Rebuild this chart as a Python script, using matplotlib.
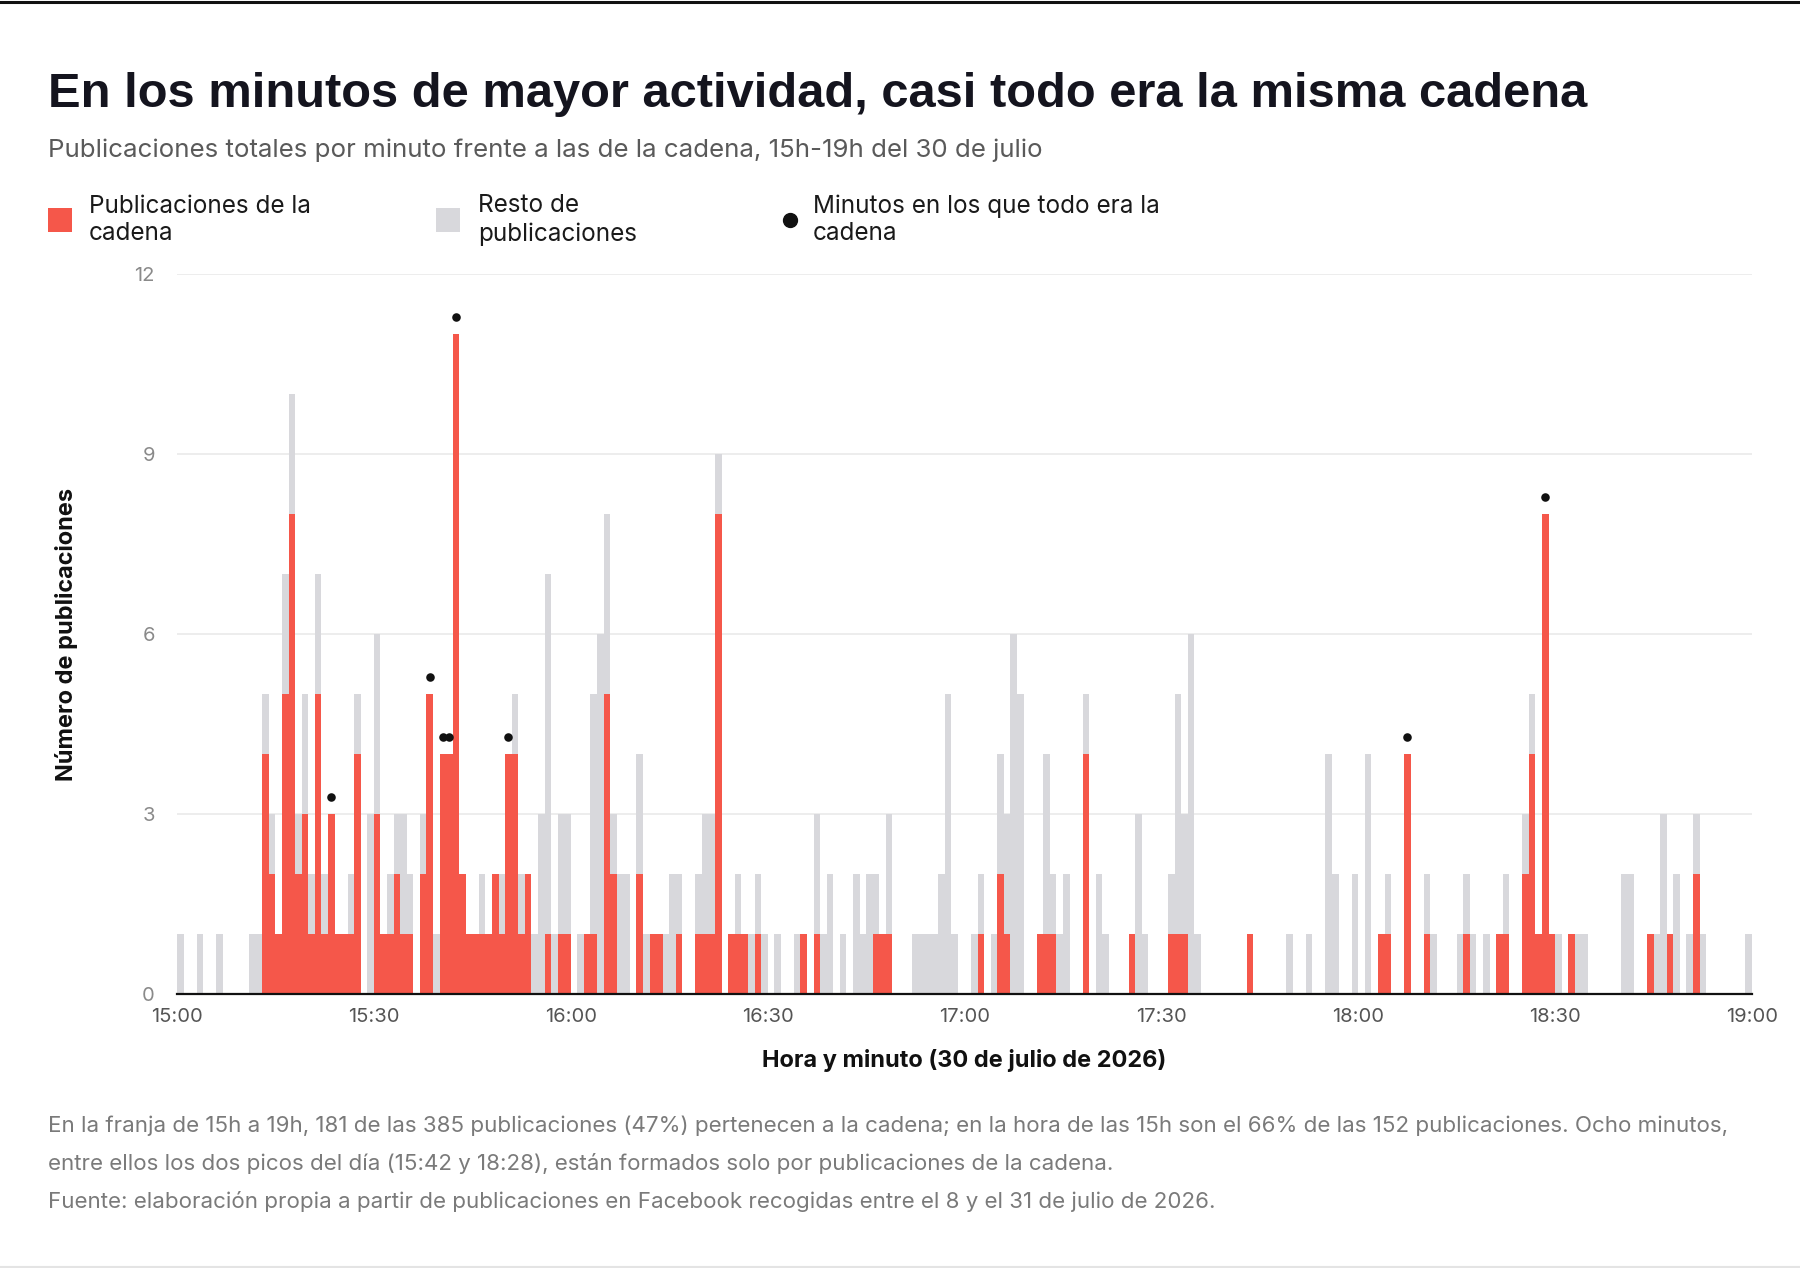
import matplotlib
matplotlib.use("Agg")
import matplotlib.pyplot as plt
from matplotlib.lines import Line2D
from matplotlib.patches import Rectangle
import numpy as np

plt.rcParams['font.family'] = ['Inter', 'DejaVu Sans']

# publicaciones totales por minuto (una lista por hora)
total_15h = [1, 0, 0, 1, 0, 0, 1, 0, 0, 0,
             0, 1, 1, 5, 3, 1, 7, 10, 3, 5,
             2, 7, 2, 3, 1, 1, 2, 5, 0, 3,
             6, 1, 2, 3, 3, 2, 0, 3, 5, 1,
             4, 4, 11, 2, 1, 1, 2, 1, 2, 2,
             4, 5, 2, 2, 1, 3, 7, 1, 3, 3]
total_16h = [0, 1, 1, 5, 6, 8, 3, 2, 2, 0,
             4, 1, 1, 1, 1, 2, 2, 0, 0, 2,
             3, 3, 9, 0, 1, 2, 1, 1, 2, 1,
             0, 1, 0, 0, 1, 1, 0, 3, 1, 2,
             0, 1, 0, 2, 1, 2, 2, 1, 3, 0,
             0, 0, 1, 1, 1, 1, 2, 5, 1, 0]
total_17h = [0, 1, 2, 0, 1, 4, 3, 6, 5, 0,
             0, 1, 4, 2, 1, 2, 0, 0, 5, 0,
             2, 1, 0, 0, 0, 1, 3, 1, 0, 0,
             0, 2, 5, 3, 6, 1, 0, 0, 0, 0,
             0, 0, 0, 1, 0, 0, 0, 0, 0, 1,
             0, 0, 1, 0, 0, 4, 2, 0, 0, 2]
total_18h = [0, 4, 0, 1, 2, 0, 0, 4, 0, 0,
             2, 1, 0, 0, 0, 1, 2, 1, 0, 1,
             0, 1, 2, 0, 0, 3, 5, 1, 8, 1,
             1, 0, 1, 1, 1, 0, 0, 0, 0, 0,
             2, 2, 0, 0, 1, 1, 3, 1, 2, 0,
             1, 3, 1, 0, 0, 0, 0, 0, 0, 1]

# publicaciones de la cadena por minuto
cadena_15h = [0, 0, 0, 0, 0, 0, 0, 0, 0, 0,
              0, 0, 0, 4, 2, 1, 5, 8, 2, 3,
              1, 5, 1, 3, 1, 1, 1, 4, 0, 0,
              3, 1, 1, 2, 1, 1, 0, 2, 5, 0,
              4, 4, 11, 2, 1, 1, 1, 1, 2, 1,
              4, 4, 1, 2, 0, 0, 1, 0, 1, 1]
cadena_16h = [0, 0, 1, 1, 0, 5, 2, 0, 0, 0,
              2, 0, 1, 1, 0, 0, 1, 0, 0, 1,
              1, 1, 8, 0, 1, 1, 1, 0, 1, 0,
              0, 0, 0, 0, 0, 1, 0, 1, 0, 0,
              0, 0, 0, 0, 0, 0, 1, 1, 1, 0,
              0, 0, 0, 0, 0, 0, 0, 0, 0, 0]
cadena_17h = [0, 0, 1, 0, 0, 2, 1, 0, 0, 0,
              0, 1, 1, 1, 0, 0, 0, 0, 4, 0,
              0, 0, 0, 0, 0, 1, 0, 0, 0, 0,
              0, 1, 1, 1, 0, 0, 0, 0, 0, 0,
              0, 0, 0, 1, 0, 0, 0, 0, 0, 0,
              0, 0, 0, 0, 0, 0, 0, 0, 0, 0]
cadena_18h = [0, 0, 0, 1, 1, 0, 0, 4, 0, 0,
              1, 0, 0, 0, 0, 0, 1, 0, 0, 0,
              0, 1, 1, 0, 0, 2, 4, 1, 8, 1,
              0, 0, 1, 0, 0, 0, 0, 0, 0, 0,
              0, 0, 0, 0, 1, 0, 0, 1, 0, 0,
              0, 2, 0, 0, 0, 0, 0, 0, 0, 0]

# minutos (desde las 15:00) en los que todo era la cadena
minutos_todo_cadena = [23, 38, 40, 41, 42, 50, 187, 208]

tick_labels = ['15:00', '15:30', '16:00', '16:30', '17:00', '17:30', '18:00', '18:30', '19:00']

total = np.array(total_15h + total_16h + total_17h + total_18h)
cadena = np.array(cadena_15h + cadena_16h + cadena_17h + cadena_18h)
minutos = np.arange(len(total))

ROJO = '#f5574a'
GRIS = '#d8d8dc'
W, H = 1800, 1268

fig = plt.figure(figsize=(18, 12.68), dpi=100)
ax = fig.add_axes([177 / W, 1 - 994 / H, (1752 - 177) / W, (994 - 274) / H])

ax.bar(minutos, total, width=1.0, align='edge', color=GRIS, linewidth=0, zorder=2)
ax.bar(minutos, cadena, width=1.0, align='edge', color=ROJO, linewidth=0, zorder=3)
dots = np.array(minutos_todo_cadena)
ax.scatter(dots + 0.5, cadena[dots] + 0.29, s=38, color='#111111', zorder=4, linewidths=0)

ax.set_xlim(0, 240)
ax.set_ylim(0, 12)
ax.set_yticks([0, 3, 6, 9, 12])
ax.set_xticks(np.arange(0, 241, 30))
ax.set_xticklabels(tick_labels)
ax.grid(axis='y', color='#ececec', linewidth=1.3, zorder=0)
ax.set_axisbelow(True)
for s in ['top', 'right', 'left']:
    ax.spines[s].set_visible(False)
ax.spines['bottom'].set_color('#111111')
ax.spines['bottom'].set_linewidth(1.6)
ax.spines['bottom'].set_zorder(5)
ax.tick_params(axis='y', length=0, pad=16, labelsize=14.5, labelcolor='#8a8a8a')
ax.tick_params(axis='x', length=0, pad=10, labelsize=14.5, labelcolor='#555555')


def fy(px):
    return 1 - px / H


def fit(t, width_px):
    fig.canvas.draw()
    w = t.get_window_extent(fig.canvas.get_renderer()).width
    t.set_fontsize(t.get_fontsize() * width_px / w)


title = fig.text(48 / W, fy(107), 'En los minutos de mayor actividad, casi todo era la misma cadena',
                 fontsize=38, fontweight='bold', color='#14141e', va='baseline',
                 family=['Liberation Sans', 'DejaVu Sans'])
fit(title, 1539)
sub = fig.text(48 / W, fy(157), 'Publicaciones totales por minuto frente a las de la cadena, 15h-19h del 30 de julio',
               fontsize=17, color='#5a5a5a', va='baseline')
fit(sub, 997)

# leyenda
fig.add_artist(Rectangle((48 / W, fy(232)), 24 / W, 24 / H, transform=fig.transFigure,
                         color=ROJO, linewidth=0))
fig.add_artist(Rectangle((436 / W, fy(232)), 24 / W, 24 / H, transform=fig.transFigure,
                         color=GRIS, linewidth=0))
fig.add_artist(Line2D([790 / W], [fy(220)], marker='o', markersize=10, color='#111111',
                      linestyle='none', transform=fig.transFigure))
leg1 = fig.text(89 / W, fy(220), 'Publicaciones de la\ncadena', fontsize=17.5,
                color='#1a1a1a', va='center', linespacing=1.25)
fit(leg1, 222)
fig.text(478 / W, fy(220), 'Resto de\npublicaciones', fontsize=leg1.get_fontsize(),
         color='#1a1a1a', va='center', linespacing=1.25)
fig.text(813 / W, fy(220), 'Minutos en los que todo era la\ncadena', fontsize=leg1.get_fontsize(),
         color='#1a1a1a', va='center', linespacing=1.25)

ylab = fig.text(67 / W, fy(634), 'Número de publicaciones', rotation=90, fontsize=15.5,
                fontweight='bold', color='#111111', ha='center', va='center')
xlab = fig.text(964.5 / W, fy(1060), 'Hora y minuto (30 de julio de 2026)', fontsize=15.5,
                fontweight='bold', color='#111111', ha='center', va='center')
fit(xlab, 405)
ylab.set_fontsize(xlab.get_fontsize())

foot1 = fig.text(48 / W, fy(1126),
                 'En la franja de 15h a 19h, 181 de las 385 publicaciones (47%) pertenecen a la cadena; '
                 'en la hora de las 15h son el 66% de las 152 publicaciones. Ocho minutos,',
                 fontsize=15, color='#7a7a7a', va='center')
fit(foot1, 1680)
fig.text(48 / W, fy(1164),
         'entre ellos los dos picos del día (15:42 y 18:28), están formados solo por publicaciones de la cadena.',
         fontsize=foot1.get_fontsize(), color='#7a7a7a', va='center')
fig.text(48 / W, fy(1201),
         'Fuente: elaboración propia a partir de publicaciones en Facebook recogidas entre el 8 y el 31 de julio de 2026.',
         fontsize=foot1.get_fontsize(), color='#7a7a7a', va='center')

# lineas de borde
fig.add_artist(Line2D([0, 1], [1 - 1.5 / H, 1 - 1.5 / H], color='#111111', linewidth=2.2,
                      transform=fig.transFigure))
fig.add_artist(Line2D([0, 1], [1.5 / H, 1.5 / H], color='#e4e4e4', linewidth=1.5,
                      transform=fig.transFigure))

fig.savefig('out.png', dpi=100, facecolor='white')
